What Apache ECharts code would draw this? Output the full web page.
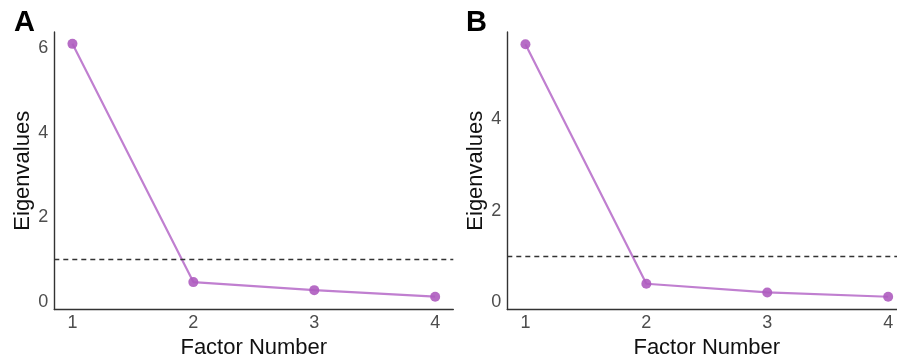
<!DOCTYPE html>
<html>
<head>
<meta charset="utf-8">
<script src="https://cdn.jsdelivr.net/npm/echarts@6/dist/echarts.min.js"></script>
<style>
html,body{margin:0;padding:0;background:#fff;}
#chart{width:897px;height:358px;}
</style>
</head>
<body>
<div id="chart"></div>
<script>
// Data
const factors = [1, 2, 3, 4];
const eigenA = [6.10, 0.47, 0.28, 0.125];
const eigenB = [5.64, 0.40, 0.21, 0.115];
const threshold = 1;
const xTicks = [1, 2, 3, 4];
const yTicksA = [0, 2, 4, 6];
const yTicksB = [0, 2, 4];
const panelLabels = ['A', 'B'];
const xTitle = 'Factor Number';
const yTitle = 'Eigenvalues';

const FONT = 'Liberation Sans, Arial, sans-serif';
const lineColor = '#c07fd0';
const pointColor = '#ae5cbf';
const axisColor = '#333333';
const labelColor = '#4d4d4d';

function xAxis(idx) {
  return {
    gridIndex: idx, type: 'value', min: 0.85, max: 4.15,
    name: xTitle, nameLocation: 'middle', nameGap: 23,
    nameTextStyle: { fontFamily: FONT, fontSize: 22, color: '#111' },
    axisLine: { show: true, onZero: false, lineStyle: { color: axisColor, width: 1.4 } },
    axisTick: { show: false },
    splitLine: { show: false },
    axisLabel: { customValues: xTicks, fontFamily: FONT, fontSize: 18, color: labelColor, margin: 5 }
  };
}
function yAxis(idx, min, max, ticks) {
  return {
    gridIndex: idx, type: 'value', min: min, max: max,
    name: yTitle, nameLocation: 'middle', nameGap: 20,
    nameTextStyle: { fontFamily: FONT, fontSize: 22, color: '#111' },
    axisLine: { show: true, onZero: false, lineStyle: { color: axisColor, width: 1.4 } },
    axisTick: { show: false },
    splitLine: { show: false },
    axisLabel: { customValues: ticks, fontFamily: FONT, fontSize: 18, color: labelColor, margin: 6 }
  };
}
function series(idx, vals) {
  return {
    type: 'line', xAxisIndex: idx, yAxisIndex: idx,
    data: factors.map((f, i) => [f, vals[i]]),
    symbol: 'circle', symbolSize: 10,
    lineStyle: { color: lineColor, width: 2.2 },
    itemStyle: { color: pointColor, opacity: 0.9 },
    clip: false,
    z: 3,
    markLine: {
      silent: true, symbol: 'none', animation: false,
      label: { show: false },
      lineStyle: { type: [5, 4], color: '#333', width: 1.3 },
      data: [{ yAxis: threshold }]
    }
  };
}

const chart = echarts.init(document.getElementById('chart'));
chart.setOption({
  animation: false,
  backgroundColor: '#fff',
  grid: [
    { left: 54.3, top: 32, width: 399, height: 277.5, containLabel: false, outerBoundsMode: 'none' },
    { left: 507.3, top: 32, width: 399, height: 277.5, containLabel: false, outerBoundsMode: 'none' }
  ],
  xAxis: [xAxis(0), xAxis(1)],
  yAxis: [yAxis(0, -0.177, 6.38, yTicksA), yAxis(1, -0.164, 5.91, yTicksB)],
  series: [series(0, eigenA), series(1, eigenB)],
  graphic: [
    { type: 'text', left: 14, top: 8, style: { text: panelLabels[0], font: 'bold 29px ' + FONT, fill: '#000' } },
    { type: 'text', left: 466, top: 8, style: { text: panelLabels[1], font: 'bold 29px ' + FONT, fill: '#000' } }
  ]
});
</script>
</body>
</html>
